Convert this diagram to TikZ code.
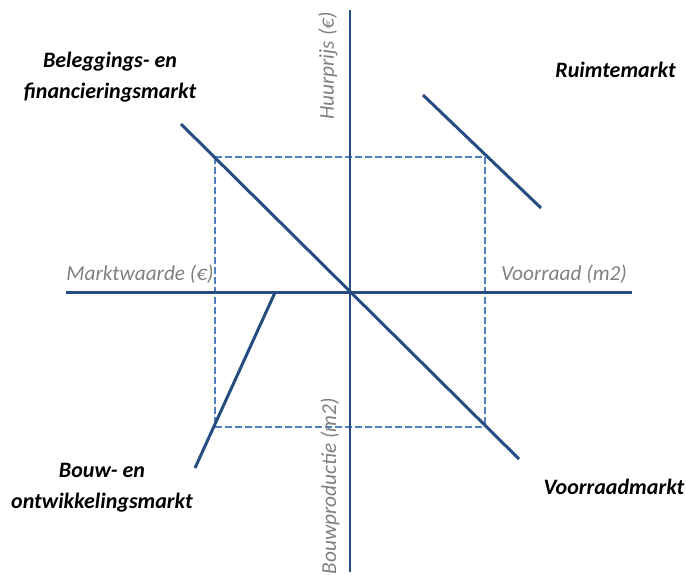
\documentclass[tikz,border=0pt]{standalone}
\usepackage{fontspec}
\setmainfont{Carlito}
\definecolor{axisblue}{HTML}{264D82}
\definecolor{dashblue}{HTML}{4F7FC0}
\definecolor{lblgray}{HTML}{808080}
\begin{document}
\begin{tikzpicture}[x=1pt,y=-1pt,
  axis/.style={axisblue,line width=2.6pt},
  curve/.style={axisblue,line width=3pt},
  guide/.style={draw=dashblue,line width=2pt,dash pattern=on 6.5pt off 3.5pt},
  mkt/.style={font=\fontsize{22}{31}\selectfont\bfseries\itshape,align=center,inner sep=0pt},
  axl/.style={font=\fontsize{21.3}{25}\selectfont\itshape,text=lblgray,inner sep=0pt}]
\useasboundingbox (0,0) rectangle (686,574);
% coordinates
\coordinate (vt) at (350,10);
\coordinate (vb) at (350,572);
\coordinate (hl) at (66,292.5);
\coordinate (hr) at (632,292.5);
\coordinate (bl1) at (181,124);
\coordinate (bl2) at (519,459);
\coordinate (r1) at (423,95);
\coordinate (r2) at (541,208);
\coordinate (b1) at (275,292.5);
\coordinate (b2) at (195,468);
\coordinate (q1) at (215,157);
\coordinate (q2) at (485,157);
\coordinate (q3) at (485,427);
\coordinate (q4) at (215,427);
% guides
\draw[guide] (q1) -- (q2);
\draw[guide] (q2) -- (q3);
\draw[guide] (q4) -- (q3);
\draw[guide] (q1) -- (q4);
% axes
\draw[axis] (vt) -- (vb);
\draw[axis] (hl) -- (hr);
% market lines
\draw[curve] (bl1) -- (bl2);
\draw[curve] (r1) -- (r2);
\draw[curve] (b1) -- (b2);
% labels
\node[mkt] (lbel) at (110,77) {Beleggings- en\\financieringsmarkt};
\node[mkt] (lrui) at (615.5,70) {Ruimtemarkt};
\node[mkt] (lbou) at (102,488) {Bouw- en\\ontwikkelingsmarkt};
\node[mkt] (lvoo) at (614,487) {Voorraadmarkt};
\node[axl,rotate=90] (ahuur) at (328,66) {Huurprijs (€)};
\node[axl] (amw) at (140,274) {Marktwaarde (€)};
\node[axl] (avr) at (564,274) {Voorraad (m2)};
\node[axl,rotate=90] (abp) at (330,486) {Bouwproductie (m2)};
\end{tikzpicture}
\end{document}
